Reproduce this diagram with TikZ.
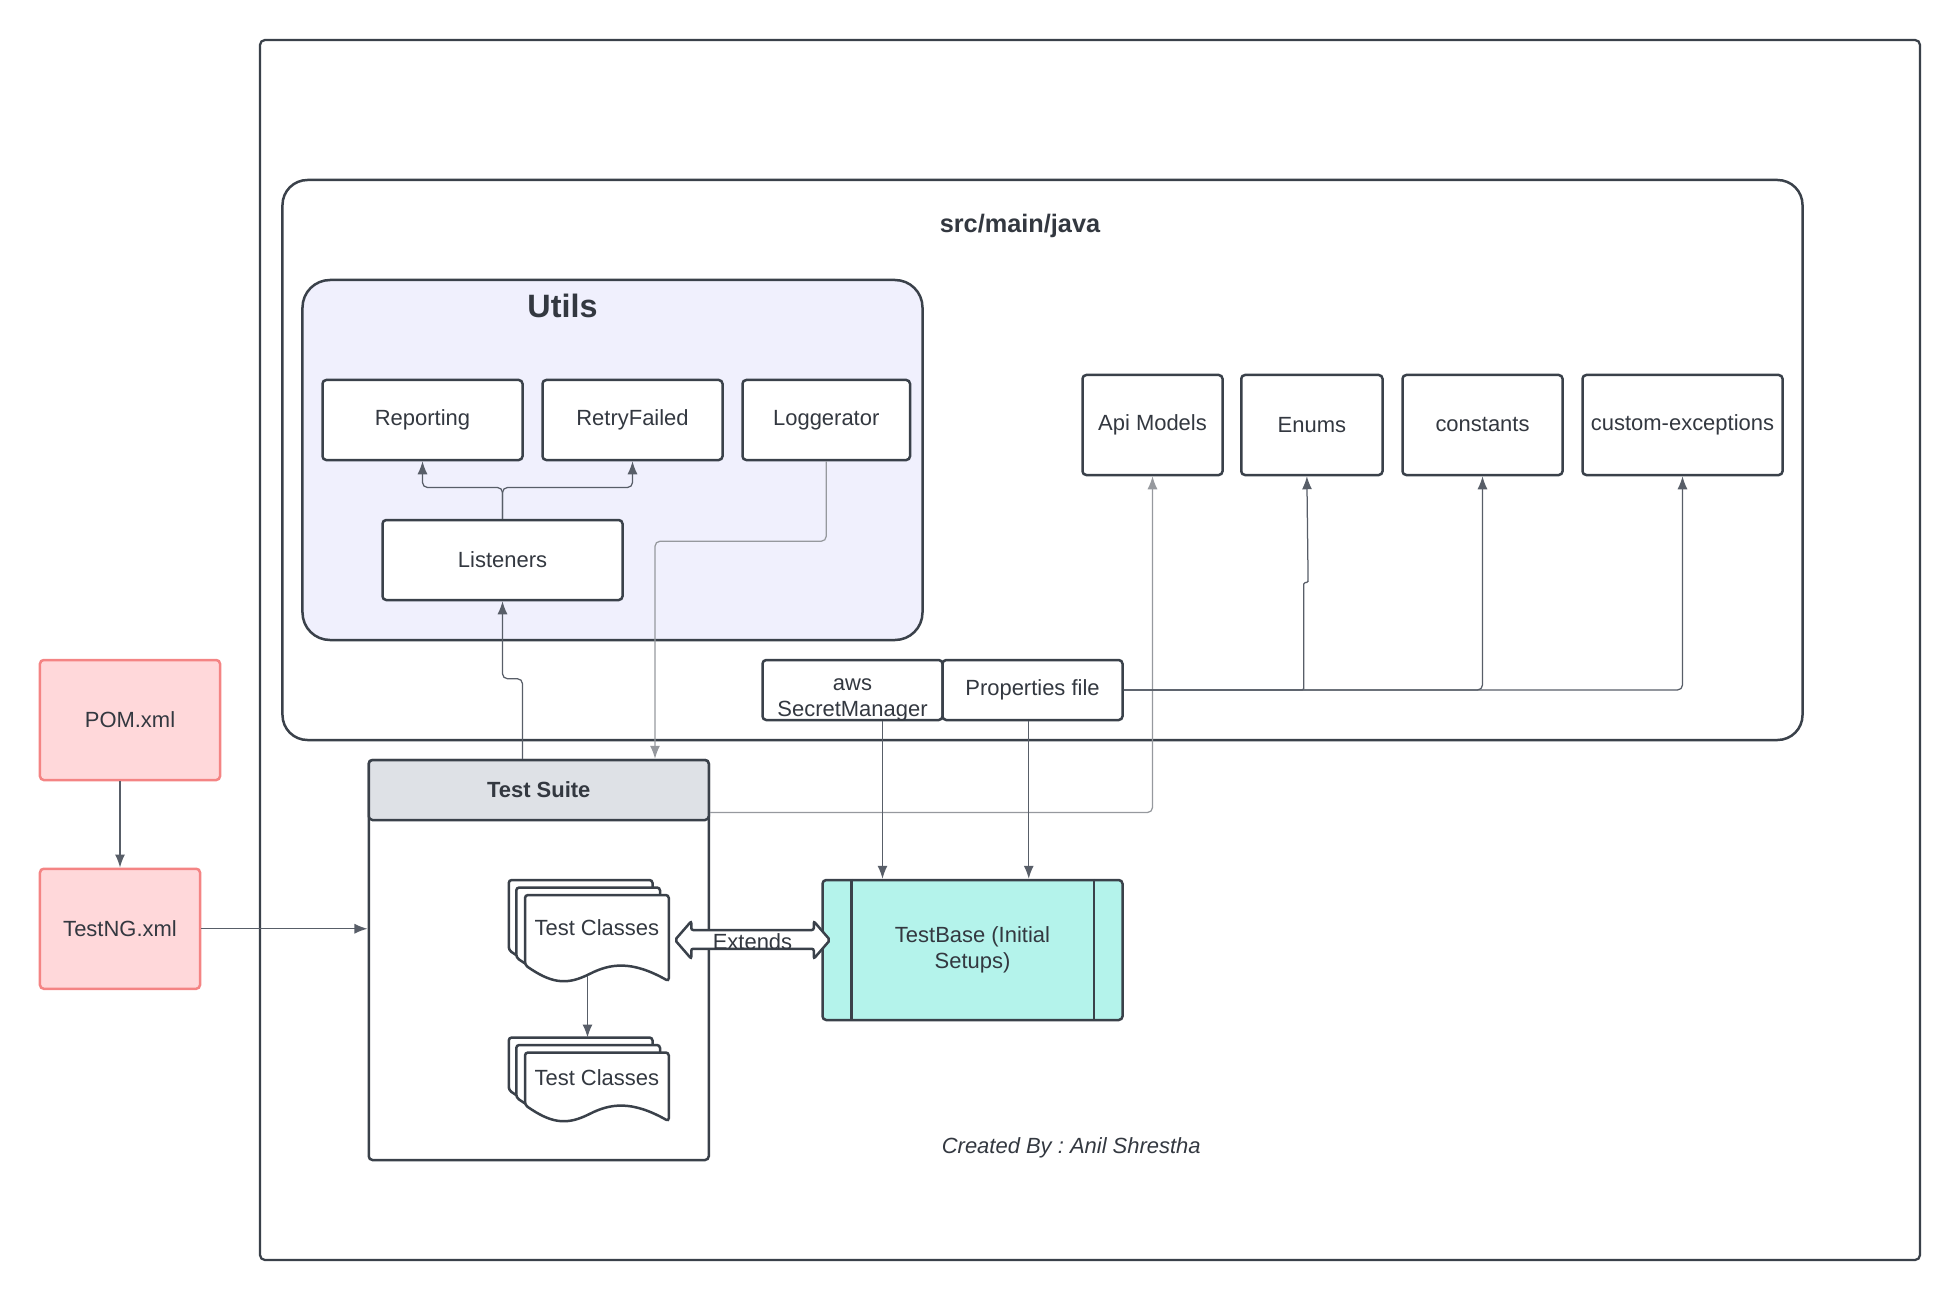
\documentclass[tikz,border=0pt]{standalone}
\usepackage{fontspec}
\setmainfont{Liberation Sans}
\usetikzlibrary{positioning, arrows.meta, calc}

\definecolor{linec}{RGB}{58,65,74}
\definecolor{textc}{RGB}{51,56,64}
\definecolor{connc}{RGB}{88,94,104}
\definecolor{lightconn}{RGB}{150,153,158}
\definecolor{utilsfill}{RGB}{240,240,253}
\definecolor{pinkfill}{RGB}{255,216,218}
\definecolor{pinkline}{RGB}{244,132,132}
\definecolor{headfill}{RGB}{222,225,230}
\definecolor{tealfill}{RGB}{180,243,235}

\begin{document}
\begin{tikzpicture}[x=0.25mm, y=-0.25mm,
	font=\fontsize{12.5}{15}\selectfont, text=textc,
	box/.style={draw=linec, line width=0.5mm, rounded corners=0.75mm, fill=white, text centered, minimum height=16mm},
	pinkbox/.style={draw=pinkline, line width=0.5mm, rounded corners=0.75mm, fill=pinkfill, text centered, minimum height=24mm},
	group/.style={draw=linec, line width=0.5mm, rounded corners=5mm},
	sheet/.style={draw=linec, line width=0.5mm, rounded corners=0.6mm, fill=white},
	conn/.style={draw=connc, line width=0.25mm, rounded corners=1mm, -{Latex[length=2.6mm, width=2mm]}},
	title/.style={font=\fontsize{14.4}{17}\selectfont\bfseries}]
			
			\useasboundingbox (0,0) rectangle (1568,1040);
			
			%Frames
			\node (frame) at (872,520) [draw=linec, line width=0.45mm, rounded corners=1mm, minimum width=332mm, minimum height=244mm]{};
			
			\node (src) at (834,368) [group, minimum width=304mm, minimum height=112mm]{};
			\node (srctitle) at (816,181) [title]{src/main/java};
			
			\node (utils) at (490,368) [group, fill=utilsfill, rounded corners=5.5mm, minimum width=124mm, minimum height=72mm]{};
			\node (utilstitle) at (450,245) [font=\fontsize{18.4}{22}\selectfont\bfseries]{Utils};
			
			%Nodes
			\node (reporting) at (338,336) [box, minimum width=40mm]{Reporting};
			\node (retry) at (506,336) [box, minimum width=36mm]{RetryFailed};
			\node (logger) at (661,336) [box, minimum width=33.5mm]{Loggerator};
			\node (listeners) at (402,448) [box, minimum width=48mm]{Listeners};
			
			\node (apimodels) at (922,340) [box, minimum width=28mm, minimum height=20mm]{Api Models};
			\node (enums) at (1049.5,340) [box, minimum width=28.25mm, minimum height=20mm]{Enums};
			\node (constants) at (1186,340) [box, minimum width=32mm, minimum height=20mm]{constants};
			\node (customexc) at (1346,340) [box, minimum width=40mm, minimum height=20mm]{custom-exceptions};
			
			\node (aws) at (682,552) [box, minimum width=36mm, minimum height=12mm,
			label={[align=center, yshift=-2mm]center:aws\\SecretManager}]{};
			\node (props) at (826,552) [box, minimum width=36mm, minimum height=12mm]{Properties file};
			
			\node (pom) at (104,576) [pinkbox, minimum width=36mm]{POM.xml};
			\node (testng) at (96,743) [pinkbox, minimum width=32mm]{TestNG.xml};
			
			\node (suite) at (431,768) [box, minimum width=68mm, minimum height=80mm]{};
			\node (suitehead) at (431,632) [box, fill=headfill, minimum width=68mm, minimum height=12mm, font=\fontsize{12.5}{15}\selectfont\bfseries]{Test Suite};
			
			\node (testbase) at (778,760) [box, fill=tealfill, minimum width=60mm, minimum height=28mm, align=center]{TestBase (Initial\\Setups)};
			\draw[draw=linec, line width=0.5mm] ([xshift=6mm]testbase.north west) -- ([xshift=6mm]testbase.south west);
			\draw[draw=linec, line width=0.5mm] ([xshift=-6mm]testbase.north east) -- ([xshift=-6mm]testbase.south east);
			
			%Test classes
			\foreach \top/\bot in {716/772, 842/884}{
				\foreach \dx/\dy in {-13/-12, -7/-6, 0/0}{
					\draw[sheet, shift={(\dx,\dy)}] (420,\bot) -- (420,\top) -- (535,\top) -- (535,\bot+13)
					.. controls (505,\bot-4) and (488,\bot-1) .. (470,\bot+8)
					.. controls (452,\bot+16) and (440,\bot+14) .. (420,\bot) -- cycle;
				}
			}
			\node (tcA) at (477.5,742) {Test Classes};
			\node (tcB) at (477.5,862) {Test Classes};
			
			%Links
			\draw[conn] (listeners.north) -- ++(0,-25) -| (reporting.south);
			\draw[conn] (listeners.north) -- ++(0,-25) -| (retry.south);
			\draw[conn, draw=lightconn] (logger.south) -- ++(0,64) -| ([xshift=23.25mm]suitehead.north);
			\draw[conn] ([xshift=-3.25mm]suitehead.north) -- ++(0,-64) -| (listeners.south);
			\draw[conn, draw=lightconn] ([yshift=-4.5mm]suitehead.east) -| (apimodels.south);
			\draw[conn] (props.east) -| (customexc.south);
			\draw[conn] (props.east) -| (constants.south);
			\draw[conn, rounded corners=0.3mm] (props.east) -- ++(144,0) -- ++(0,-86) -- ++(3.5,0) -- ([xshift=-1mm]enums.south);
			\draw[conn] ([xshift=6mm]aws.south) coordinate (awsout) -- (awsout |- testbase.north);
			\draw[conn] ([xshift=-0.75mm]props.south) coordinate (propsout) -- (propsout |- testbase.north);
			\draw[conn] (testng.north |- pom.south) -- (testng.north);
			\draw[conn] (testng.east) -- (testng.east -| suite.west);
			\draw[conn] (470,781) coordinate (tcout) -- (tcout |- 0,830);
			
			%Extends
			\draw[sheet, rounded corners=0.4mm] (540,752) -- (553,737) -- (553,744) -- (651,744) -- (651,737) -- (664,752)
			-- (651,767) -- (651,759) -- (553,759) -- (553,767) -- cycle;
			\node (extends) at (602,753) {Extends};
			
			%Credit
			\node (credit) at (857,918) [font=\fontsize{12.5}{15}\selectfont\itshape]{Created By :\ Anil Shrestha};
			
\end{tikzpicture}
\end{document}
